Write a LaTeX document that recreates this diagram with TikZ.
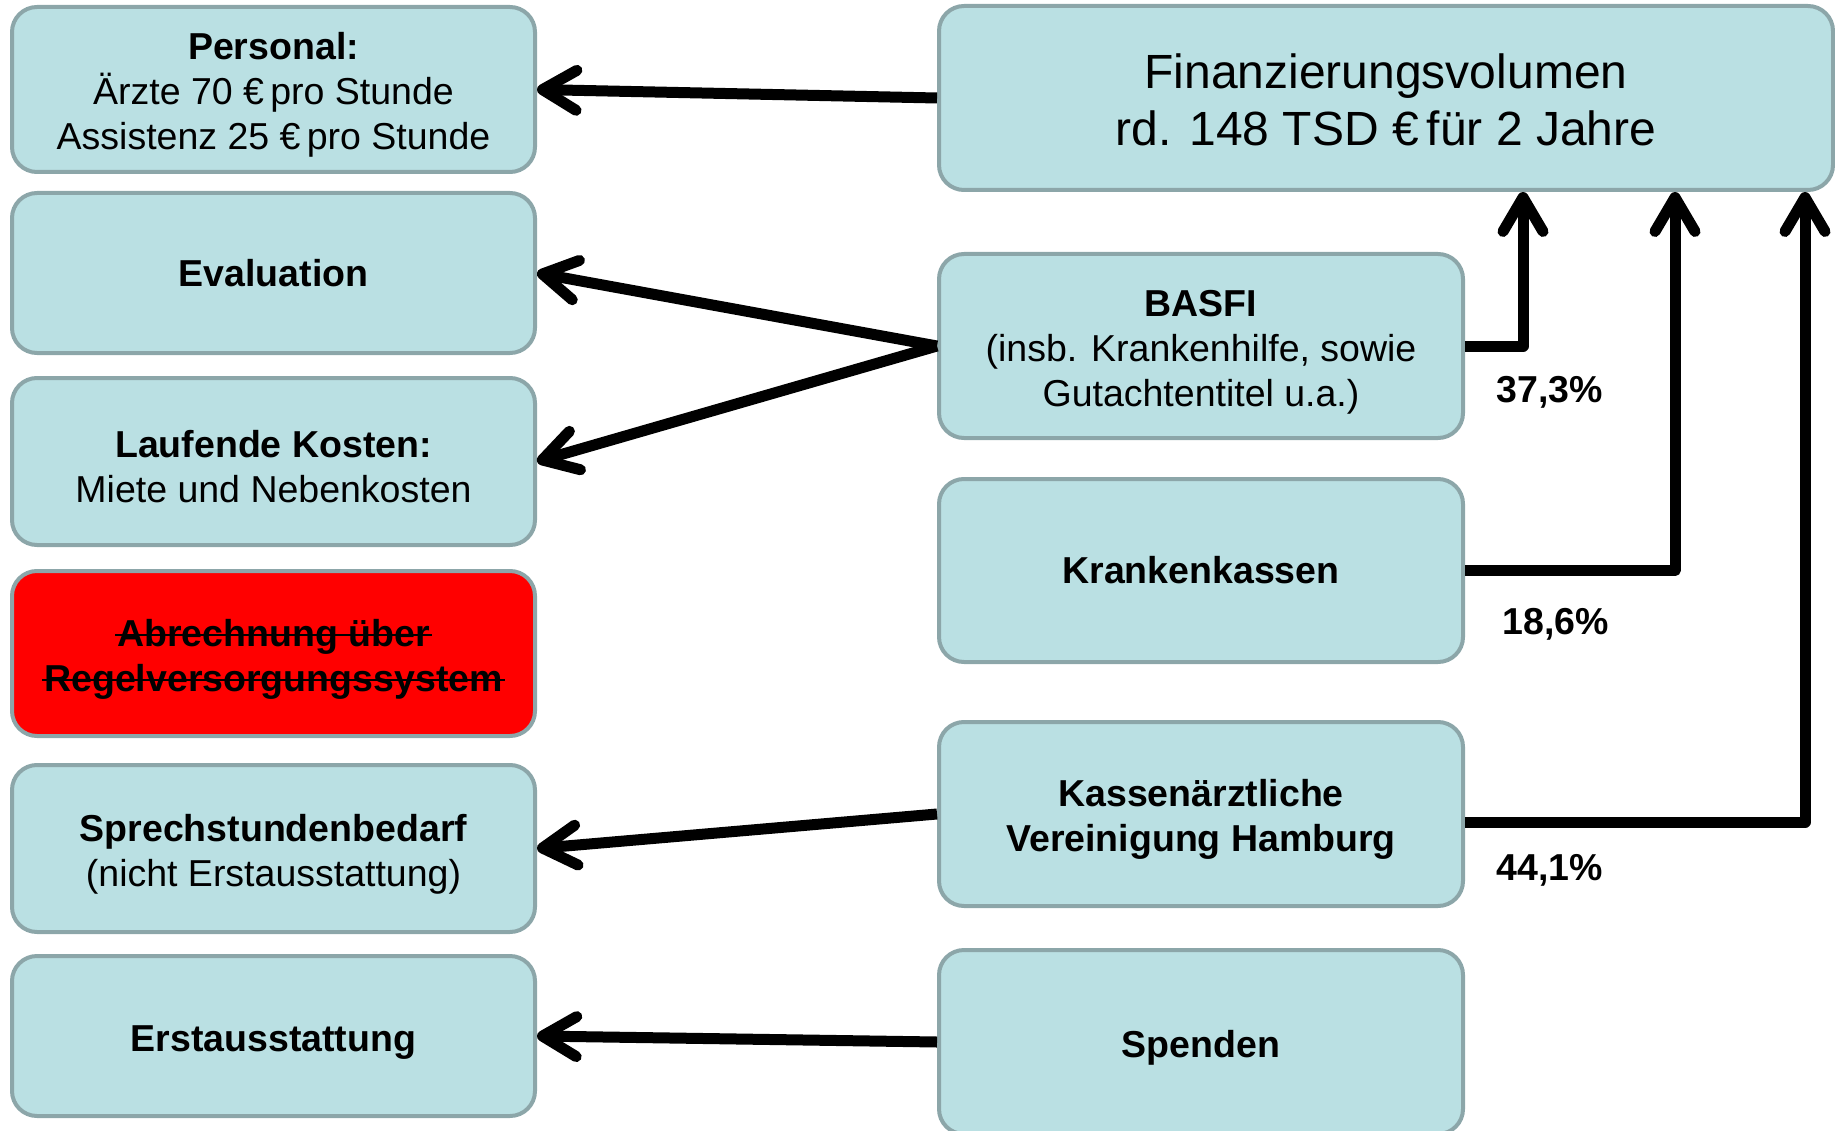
\documentclass[tikz,border=0pt]{standalone}
\usepackage{fontspec}
\setmainfont{Liberation Sans}
\usetikzlibrary{arrows.meta,calc}
\definecolor{kastenfill}{HTML}{BAE0E3}
\definecolor{kastenrand}{HTML}{8CA6A9}
\definecolor{rotfill}{HTML}{FF0000}

\newcommand{\durch}[1]{\setbox0\hbox{#1}\rlap{\kern-2pt\rule[0.26em]{\dimexpr\wd0+4pt\relax}{2.5pt}}\box0}
\newcommand{\hoch}{\rule{0pt}{38pt}}

\tikzset{
  kasten/.style={draw=kastenrand, fill=kastenfill, line width=4pt, rounded corners=25pt,
    inner sep=0pt, align=center, minimum width=523pt, minimum height=165pt,
    font=\fontsize{37.5}{45}\selectfont},
  pfeil/.style={line width=11pt, line join=round,
    -{Straight Barb[length=34pt, width=40pt, round]}},
  prozent/.style={font=\fontsize{37.5}{45}\selectfont\bfseries}
}

\begin{document}
\begin{tikzpicture}[x=1pt, y=-1pt]
  \useasboundingbox (0,0) rectangle (1835,1131);

  \node[kasten] at (273.5,89.5) (pers) {\hoch\textbf{Personal:}\\Ärzte 70 €\,pro Stunde\\Assistenz 25 €\,pro Stunde};
  \node[kasten, minimum height=160pt] at (273.5,273) (eval) {\textbf{Evaluation}};
  \node[kasten, minimum height=167pt] at (273.5,461.5) (lauf) {\hoch\textbf{Laufende Kosten:}\\Miete und Nebenkosten};
  \node[kasten, fill=rotfill] at (273.5,653.5) (abr) {\hoch\textbf{\durch{Abrechnung über}}\\\textbf{\durch{Regelversorgungssystem}}};
  \node[kasten, minimum height=167pt] at (273.5,848.5) (sprech) {\hoch\textbf{Sprechstundenbedarf}\\(nicht Erstausstattung)};
  \node[kasten, minimum height=160pt] at (273.5,1036) (erst) {\hoch\textbf{Erstausstattung}};

  \node[kasten, minimum width=894pt, minimum height=184pt, font=\fontsize{48}{57}\selectfont] at (1386,98) (fin) {\hoch Finanzierungsvolumen\\rd. 148 TSD €\,für 2 Jahre};
  \node[kasten, minimum width=524pt, minimum height=184pt] at (1201,346) (basfi) {\hoch\textbf{BASFI}\\(insb. Krankenhilfe, sowie\\Gutachtentitel u.a.)};
  \node[kasten, minimum width=524pt, minimum height=183pt] at (1201,570.5) (krank) {\textbf{Krankenkassen}};
  \node[kasten, minimum width=524pt, minimum height=184pt] at (1201,814) (kv) {\hoch\textbf{Kassenärztliche}\\\textbf{Vereinigung Hamburg}};
  \node[kasten, minimum width=524pt, minimum height=184pt] at (1201,1042) (spend) {\hoch\textbf{Spenden}};

  \draw[pfeil] (fin.west) -- (pers.east);
  \draw[pfeil] (basfi.west) -- (eval.east);
  \draw[pfeil] (basfi.west) -- (lauf.east);
  \draw[pfeil] (kv.west) -- (sprech.east);
  \draw[pfeil] (spend.west) -- (erst.east);

  \draw[pfeil] (basfi.east) -| ([xshift=137pt]fin.south);
  \draw[pfeil] (krank.east) -| ([xshift=289pt]fin.south);
  \draw[pfeil] ([yshift=-8pt]kv.east) -| ([xshift=419pt]fin.south);

  \node[prozent] at ($(basfi.east)+(85,46)$) (p1) {37,3\%};
  \node[prozent] at ($(krank.east)+(91,54)$) (p2) {18,6\%};
  \node[prozent] at ($(kv.east)+(85,56)$) (p3) {44,1\%};
\end{tikzpicture}
\end{document}
